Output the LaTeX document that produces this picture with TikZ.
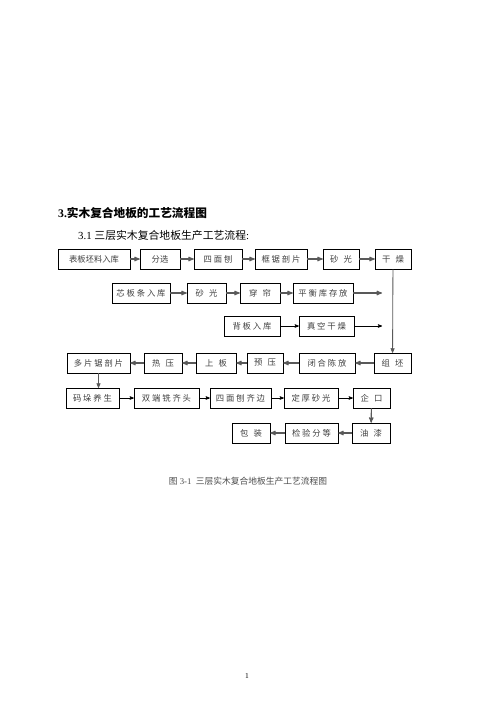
\documentclass[tikz,border=0pt]{standalone}
\usepackage{fontspec}
\setmainfont{Liberation Serif}
\newfontfamily\cjk{Noto Sans CJK SC}
\usetikzlibrary{positioning, arrows}
\newcommand{\gp}{\hspace{6pt}}
\tikzset{
x=1.2pt, y=-1.2pt, % one unit is one pixel of the page
>=stealth', % arrow heads
stage/.style={draw, line width=0.6pt, minimum height=24pt, inner sep=1pt,
  text=black!75, font=\cjk\fontsize{10}{12}\selectfont}, % the process boxes
flow/.style={->, line width=1.3pt, draw=black!65}, % grey arrows
thin flow/.style={->, line width=0.8pt}, % black arrows
}
\begin{document}
\begin{tikzpicture}
\useasboundingbox[fill=white] (0,0) rectangle (496,702);
% headings
\node[anchor=west, inner sep=0pt, font=\fontsize{14}{16}\selectfont] (head) at (58,213)
  {\textbf{3.}{\cjk\bfseries 实木复合地板的工艺流程图}};
\node[anchor=west, inner sep=0pt, font=\fontsize{13}{15}\selectfont] (sub) at (78,235)
  {3.1 {\cjk 三层实木复合地板生产工艺流程}:};
% row 1
\node[stage, minimum width=86.4pt] (a1) at (94,259) {表板坯料入库};
\node[stage, minimum width=48pt] (a2) at (160,259) {分选};
\node[stage, minimum width=57.6pt] (a3) at (218,259) {四 面 刨};
\node[stage, minimum width=62.4pt] (a4) at (281,259) {框 锯 剖 片};
\node[stage, minimum width=43.2pt] (a5) at (341,259) {砂\gp 光};
\node[stage, minimum width=43.2pt] (a6) at (393,259) {干\gp 燥};
% row 2
\node[stage, minimum width=69.6pt] (b1) at (141,293) {芯 板 条 入 库};
\node[stage, minimum width=46.8pt] (b2) at (206.5,293) {砂\gp 光};
\node[stage, minimum width=48pt] (b3) at (260,293) {穿\gp 帘};
\node[stage, minimum width=72pt] (b4) at (323,293) {平 衡 库 存 放};
\coordinate (b5) at (382,293);
% row 3
\node[stage, minimum width=67.2pt] (c1) at (252,326) {背 板 入 库};
\node[stage, minimum width=66pt] (c2) at (326.5,326) {真 空 干 燥};
\coordinate (c3) at (382,326);
% row 4
\node[stage, minimum width=75.6pt] (d1) at (98.5,363) {多 片 锯 剖 片};
\node[stage, minimum width=45.6pt] (d2) at (163,363) {热\gp 压};
\node[stage, minimum width=48pt] (d3) at (216,363) {上\gp 板};
\node[stage, minimum width=43.2pt] (d4) at (265,363) {预\gp 压};
\node[stage, minimum width=67.2pt] (d5) at (327,363) {闭 合 陈 放};
\node[stage, minimum width=44.4pt] (d6) at (392.5,363) {组\gp 坯};
% row 5
\node[stage, minimum width=63.6pt] (e1) at (92.5,398) {码 垛 养 生};
\node[stage, minimum width=78pt] (e2) at (166.5,398) {双 端 铣 齐 头};
\node[stage, minimum width=73.2pt] (e3) at (240.5,398) {四 面 刨 齐 边};
\node[stage, minimum width=64.8pt] (e4) at (311,398) {定 厚 砂 光};
\node[stage, minimum width=44.4pt] (e5) at (371.5,398) {企\gp 口};
% row 6
\node[stage, minimum width=45.6pt] (f1) at (251,433) {包\gp 装};
\node[stage, minimum width=63.6pt] (f2) at (311.5,433) {检 验 分 等};
\node[stage, minimum width=45.6pt] (f3) at (371,433) {油\gp 漆};
% caption and page number
\node[text=black!70, font=\fontsize{10.5}{12}\selectfont] (cap) at (248,481)
  {{\cjk 图} 3-1\enspace {\cjk 三层实木复合地板生产工艺流程图}};
\node[font=\fontsize{9}{10}\selectfont] (page) at (247,676) {1};
% arrows
\draw[flow] (a1) -- (a2);
\draw[flow] (a2) -- (a3);
\draw[flow] (a3) -- (a4);
\draw[flow] (a4) -- (a5);
\draw[flow] (a5) -- (a6);
\draw[flow, line width=1pt] (a6) -- (d6);
\draw[flow] (b1) -- (b2);
\draw[flow] (b2) -- (b3);
\draw[flow] (b3) -- (b4);
\draw[flow] (b4) -- (b5);
\draw[thin flow] (c1) -- (c2);
\draw[thin flow] (c2) -- (c3);
\draw[flow] (d6) -- (d5);
\draw[flow] (d5) -- (d4);
\draw[flow] (d4) -- (d3);
\draw[flow] (d3) -- (d2);
\draw[flow] (d2) -- (d1);
\draw[flow, line width=1pt] (d1) -- (d1 |- e1.north);
\draw[thin flow] (e1) -- (e2);
\draw[thin flow] (e2) -- (e3);
\draw[thin flow] (e3) -- (e4);
\draw[thin flow] (e4) -- (e5);
\draw[flow] (e5) -- (f3);
\draw[flow] (f3) -- (f2);
\draw[flow] (f2) -- (f1);
\end{tikzpicture}
\end{document}
